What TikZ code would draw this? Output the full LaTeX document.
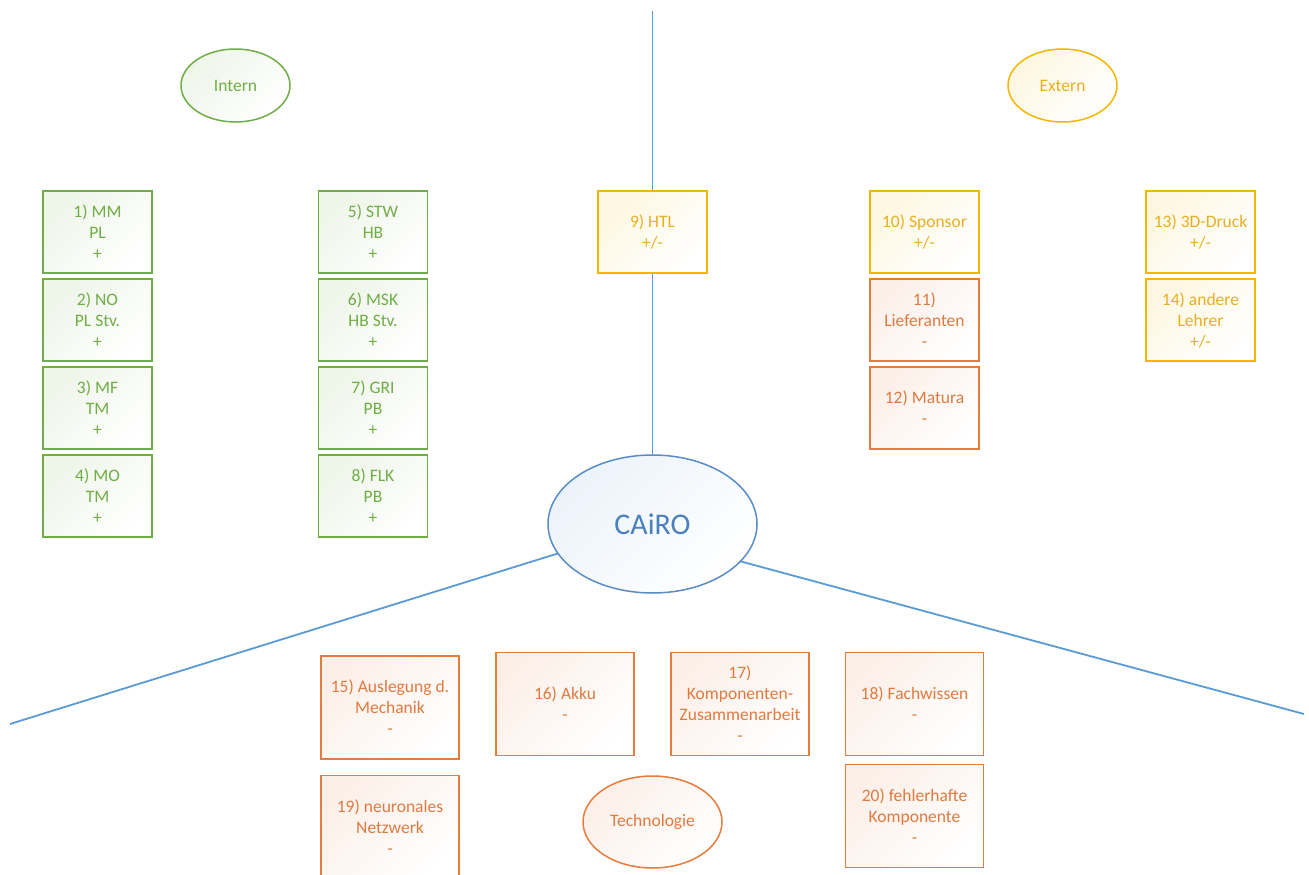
\documentclass[tikz,border=0pt]{standalone}
\usepackage{fontspec}
\setmainfont{Carlito}
\usetikzlibrary{shapes.geometric,backgrounds}
\definecolor{grn}{HTML}{70AD47}
\definecolor{gold}{HTML}{F2B700}
\definecolor{goldtext}{HTML}{E8B020}
\definecolor{org}{HTML}{E57C3C}
\definecolor{orgtext}{HTML}{E07A40}
\definecolor{blu}{HTML}{5B9BD5}
\definecolor{blutext}{HTML}{4A80BD}
\definecolor{bluedge}{HTML}{5A8CC6}
\begin{document}
\begin{tikzpicture}[x=1pt,y=-1pt,
  base/.style={line width=1.5pt, inner sep=0pt, outer sep=0pt, align=center,
    font=\fontsize{17.5}{21}\selectfont},
  sbox/.style={base, minimum width=109pt, minimum height=82pt},
  lbox/.style={base, minimum width=138pt, minimum height=103pt},
  oval/.style={base, ellipse, minimum width=109pt, minimum height=73pt},
  ingrn/.style={draw=grn, text=grn, top color=grn!12, bottom color=white, shading angle=45},
  ingold/.style={draw=gold, text=goldtext, top color=gold!12, bottom color=white, shading angle=45},
  inorg/.style={draw=org, text=orgtext, top color=org!12, bottom color=white, shading angle=45},
  link/.style={draw=blu, line width=1.8pt}
]
\useasboundingbox (0,0) rectangle (1309,875);

% category ellipses
\node[oval, ingrn] (intern) at (235.5,85.5) {Intern};
\node[oval, ingold] (extern) at (1062.5,85.5) {Extern};
\node[oval, inorg, minimum width=139pt, minimum height=92pt] (tech) at (652.5,822) {Technologie};

% central node
\node[base, ellipse, draw=bluedge, text=blutext, top color=blu!12, bottom color=white,
  shading angle=45, minimum width=209pt, minimum height=138pt,
  font=\fontsize{30}{36}\selectfont] (cairo) at (652.5,524) {CAiRO};

% intern
\node[sbox, ingrn] (n1) at (97.5,232) {1) MM\\PL\\+};
\node[sbox, ingrn] (n2) at (97.5,320) {2) NO\\PL Stv.\\+};
\node[sbox, ingrn] (n3) at (97.5,408) {3) MF\\TM\\+};
\node[sbox, ingrn] (n4) at (97.5,496) {4) MO\\TM\\+};
\node[sbox, ingrn] (n5) at (373,232) {5) STW\\HB\\+};
\node[sbox, ingrn] (n6) at (373,320) {6) MSK\\HB Stv.\\+};
\node[sbox, ingrn] (n7) at (373,408) {7) GRI\\PB\\+};
\node[sbox, ingrn] (n8) at (373,496) {8) FLK\\PB\\+};

% extern
\node[sbox, ingold] (n9) at (652.5,232) {9) HTL\\+/-};
\node[sbox, ingold] (n10) at (924.5,232) {10) Sponsor\\+/-};
\node[sbox, inorg] (n11) at (924.5,320) {11)\\Lieferanten\\-};
\node[sbox, inorg] (n12) at (924.5,408) {12) Matura\\-};
\node[sbox, ingold] (n13) at (1200.5,232) {13) 3D-Druck\\+/-};
\node[sbox, ingold] (n14) at (1200.5,320) {14) andere\\Lehrer\\+/-};

% technology
\node[lbox, inorg] (n15) at (390,707.5) {15) Auslegung d.\\Mechanik\\-};
\node[lbox, inorg] (n16) at (565,704) {16) Akku\\-};
\node[lbox, inorg] (n17) at (740,704) {17)\\Komponenten-\\Zusammenarbeit\\-};
\node[lbox, inorg] (n18) at (914.5,704) {18) Fachwissen\\-};
\node[lbox, inorg] (n19) at (390,827) {19) neuronales\\Netzwerk\\-};
\node[lbox, inorg] (n20) at (914.5,816) {20) fehlerhafte\\Komponente\\-};

% axes
\coordinate (top) at (652.5,11);
\coordinate (endL) at (10,724);
\coordinate (endR) at (1304,714);
\begin{scope}[on background layer]
\fill[white] (0,0) rectangle (1309,875);
\draw[link] (top) -- (cairo.north);
\draw[link] (cairo) -- (endL);
\draw[link] (cairo.-23) -- (endR);
\end{scope}
\end{tikzpicture}
\end{document}
